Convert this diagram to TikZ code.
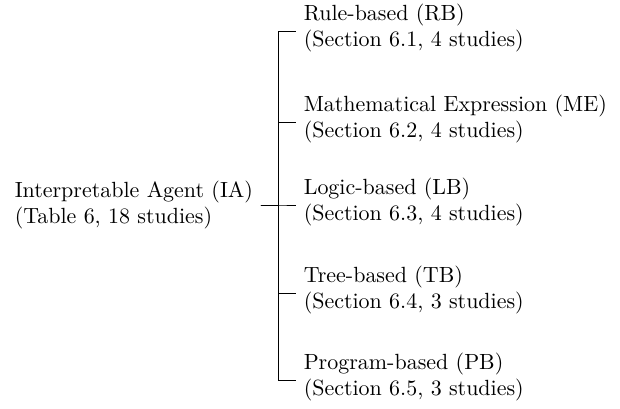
\documentclass[tikz,border=0pt]{standalone}
\usetikzlibrary{arrows.meta}
\tikzset{
  rootBox/.style={align=left, anchor=west},
  leafBox/.style={align=left, anchor=west, text height=17pt, text depth=3pt},
  branchLine/.style={black, thin},
}
\begin{document}
\begin{tikzpicture}[x=0.455pt, y=-0.455pt]
    \useasboundingbox (0,0) rectangle (620,408);

    % root of the taxonomy
    \node[rootBox] (ia) at (7,205) {Interpretable Agent (IA)\\(Table 6, 18 studies)};
    \coordinate (bar) at (278,205);

    % sub-categories
    \node[leafBox] (rb) at (296,31)  {Rule-based (RB)\\(Section 6.1, 4 studies)};
    \node[leafBox] (me) at (296,122) {Mathematical Expression (ME)\\(Section 6.2, 4 studies)};
    \node[leafBox] (lb) at (296,205) {Logic-based (LB)\\(Section 6.3, 4 studies)};
    \node[leafBox] (tb) at (296,293) {Tree-based (TB)\\(Section 6.4, 3 studies)};
    \node[leafBox] (pb) at (296,380) {Program-based (PB)\\(Section 6.5, 3 studies)};

    % branches
    \foreach \leaf in {rb,me,lb,tb,pb}
      \draw[branchLine] (ia.east) -- (bar) |- (\leaf.west);
\end{tikzpicture}
\end{document}
